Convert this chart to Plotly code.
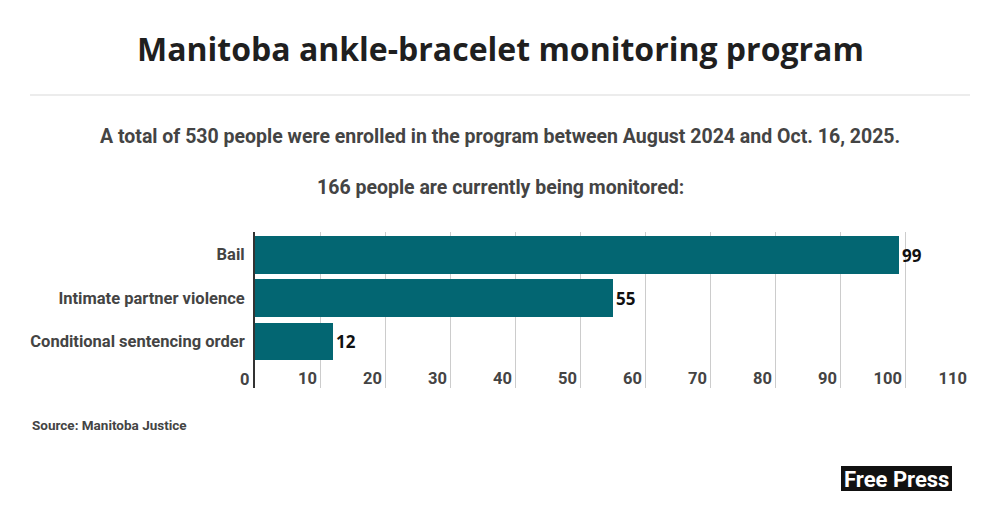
import plotly.graph_objects as go

categories = ["Bail", "Intimate partner violence", "Conditional sentencing order"]
values = [99, 55, 12]
tick_vals = [0, 10, 20, 30, 40, 50, 60, 70, 80, 90, 100, 110]

bar_color = "#036672"
label_color = "#444444"

fig = go.Figure()
fig.add_trace(go.Bar(
    y=categories, x=values, orientation="h",
    marker=dict(color=bar_color, line=dict(width=0)),
    width=0.87,
    text=[str(v) for v in values], textposition="outside",
    textfont=dict(family="Noto Sans", size=17, color="#111111", weight="bold"),
    cliponaxis=False,
    hoverinfo="skip",
))

fig.update_layout(
    width=1000, height=511,
    margin=dict(l=0, r=0, t=0, b=0),
    paper_bgcolor="white", plot_bgcolor="white",
    showlegend=False,
    bargap=0,
    xaxis=dict(
        domain=[0.255, 0.970],
        range=[0, 110],
        tickvals=tick_vals,
        ticktext=[str(t) for t in tick_vals],
        ticklabelposition="inside left",
        ticklabelstandoff=-5,
        ticklabelshift=-3,
        tickfont=dict(family="Roboto", size=16.5, color=label_color, weight="bold"),
        showgrid=True, gridcolor="#cccccc", gridwidth=1,
        zeroline=False, showline=False, ticks="",
        fixedrange=True,
    ),
    yaxis=dict(
        domain=[1 - 388 / 511, 1 - 232 / 511],
        categoryorder="array", categoryarray=categories,
        range=[3.07, -0.52],
        tickfont=dict(family="Roboto", size=16.5, color=label_color, weight="bold"),
        showline=True, linecolor="#333333", linewidth=2,
        showgrid=False, zeroline=False, ticks="", ticklabelstandoff=5,
        fixedrange=True,
    ),
)

# "0" tick label sits outside the plot area, left of the axis line
fig.add_annotation(
    text=str(tick_vals[0]), xref="x", yref="paper", x=tick_vals[0], y=1 - 379 / 511,
    xanchor="right", yanchor="middle", xshift=-4, showarrow=False,
    font=dict(family="Roboto", size=16.5, color=label_color, weight="bold"),
)

# Title
fig.add_annotation(
    text="Manitoba ankle-bracelet monitoring program",
    xref="paper", yref="paper", x=0.5, y=1 - 48 / 511, xanchor="center", yanchor="middle",
    showarrow=False, font=dict(family="Open Sans", size=32, color="#1f1f1f", weight="bold"),
)
# Rule
fig.add_shape(type="line", xref="paper", yref="paper",
              x0=0.03, x1=0.97, y0=1 - 95 / 511, y1=1 - 95 / 511,
              line=dict(color="#e6e6e6", width=1.5))
# Subtitles
fig.add_annotation(
    text="A total of 530 people were enrolled in the program between August 2024 and Oct. 16, 2025.",
    xref="paper", yref="paper", x=0.5, y=1 - 137 / 511, xanchor="center", yanchor="middle",
    showarrow=False, font=dict(family="Roboto", size=19.5, color=label_color, weight="bold"),
)
fig.add_annotation(
    text="166 people are currently being monitored:",
    xref="paper", yref="paper", x=0.5, y=1 - 187 / 511, xanchor="center", yanchor="middle",
    showarrow=False, font=dict(family="Roboto", size=19.5, color=label_color, weight="bold"),
)
# Source
fig.add_annotation(
    text="Source: Manitoba Justice",
    xref="paper", yref="paper", x=0.03, y=1 - 425 / 511, xanchor="left", yanchor="middle",
    showarrow=False, font=dict(family="Roboto", size=13.5, color=label_color, weight="bold"),
)
# Logo
fig.add_shape(type="rect", xref="paper", yref="paper",
              x0=0.841, x1=0.952, y0=1 - 491 / 511, y1=1 - 466 / 511,
              fillcolor="#111111", line=dict(width=0))
fig.add_annotation(
    text="Free Press",
    xref="paper", yref="paper", x=0.8965, y=1 - 479 / 511, xanchor="center", yanchor="middle",
    showarrow=False, font=dict(family="Roboto", size=22, color="white", weight="bold"),
)

fig.write_html(
    "out.html",
    config={"displayModeBar": False},
    post_script="document.body.style.margin='0';document.body.style.overflow='hidden';",
)
